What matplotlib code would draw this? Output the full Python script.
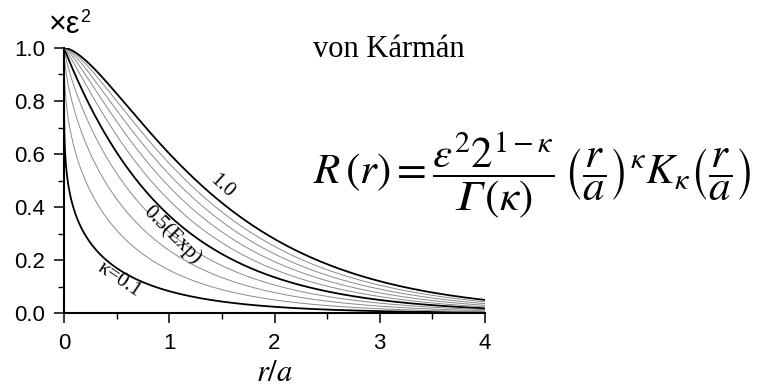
import math

import numpy as np
import matplotlib
matplotlib.use("Agg")
from matplotlib import pyplot as plt
from matplotlib.ticker import MultipleLocator

# shape parameters of the von Karman correlation function
kappas = [0.1, 0.2, 0.3, 0.4, 0.5, 0.6, 0.7, 0.8, 0.9, 1.0]
thick_kappas = [0.1, 0.5, 1.0]
curve_labels = {1.0: "1.0", 0.5: "0.5(Exp)", 0.1: "\u03ba=0.1"}

x_ticks = [0, 1, 2, 3, 4]
y_ticks = [0.0, 0.2, 0.4, 0.6, 0.8, 1.0]

plt.rcParams['mathtext.fontset'] = 'stix'

GAMMA_IT = "\U0001D6E4"  # italic capital gamma


def bessel_k(nu, x):
    # modified Bessel function of the second kind, integral form
    t = np.linspace(0, 25, 20001)
    f = np.exp(-np.outer(x, np.cosh(t))) * np.cosh(nu * t)
    return np.trapezoid(f, t, axis=1)


def von_karman(kappa, x):
    return 2 ** (1 - kappa) / math.gamma(kappa) * x ** kappa * bessel_k(kappa, x)


r = np.concatenate([np.logspace(-7, -1.3, 150), np.linspace(0.05, 4, 400)])

fig = plt.figure(figsize=(7.67, 3.90), dpi=100)
ax = fig.add_axes([0.0834, 0.197, 0.549, 0.68])

for k in kappas:
    R = von_karman(k, r)
    if k in thick_kappas:
        ax.plot(r, R, color='black', lw=1.3, solid_capstyle='butt')
    else:
        ax.plot(r, R, color='#8a8a8a', lw=0.7)

ax.set_xlim(0, 4)
ax.set_ylim(0, 1.0)
ax.set_xticks(x_ticks)
ax.set_yticks(y_ticks)
ax.set_yticklabels(["%.1f" % v for v in y_ticks])
ax.xaxis.set_minor_locator(MultipleLocator(0.5))
ax.yaxis.set_minor_locator(MultipleLocator(0.1))
ax.tick_params(which='major', direction='out', length=7.5, width=1.1,
               labelsize=16)
ax.tick_params(which='minor', direction='out', length=4, width=1.0)
ax.tick_params(axis='x', which='major', pad=7)
ax.tick_params(axis='y', which='major', pad=6)
for lab in ax.get_xticklabels() + ax.get_yticklabels():
    lab.set_family('Liberation Sans')

for side in ['top', 'right']:
    ax.spines[side].set_visible(False)
for side in ['left', 'bottom']:
    ax.spines[side].set_linewidth(1.5)

ax.set_xlabel(r'$r/a$', fontsize=22, labelpad=3)
fig.text(0.064, 0.935, "\u00d7\u03b5", fontsize=22, family='Liberation Sans',
         ha='left', va='center')
fig.text(0.104, 0.955, "2", fontsize=13, family='Liberation Sans',
         ha='left', va='center')

# curve annotations
ax.text(1.50, 0.48, curve_labels[1.0], rotation=-42, fontsize=15,
        family='Liberation Serif', ha='center', va='center')
ax.text(1.03, 0.294, curve_labels[0.5], rotation=-45, fontsize=15,
        family='Liberation Serif', ha='center', va='center')
ax.text(0.52, 0.125, curve_labels[0.1], rotation=-34, fontsize=15,
        family='Liberation Serif', ha='center', va='center')

fig.text(0.408, 0.872, "von K\u00e1rm\u00e1n", fontsize=22,
         family='Liberation Serif', ha='left', va='center')
formula = (r'$R\,(r) = \dfrac{\varepsilon^2 2^{1-\kappa}}{' + GAMMA_IT +
           r'\,(\kappa)}\,\left(\dfrac{r}{a}\right)^{\kappa} '
           r'K_{\kappa}\left(\dfrac{r}{a}\right)$')
fig.text(0.408, 0.551, formula, fontsize=31, ha='left', va='center')

fig.savefig('out.png', dpi=100)
